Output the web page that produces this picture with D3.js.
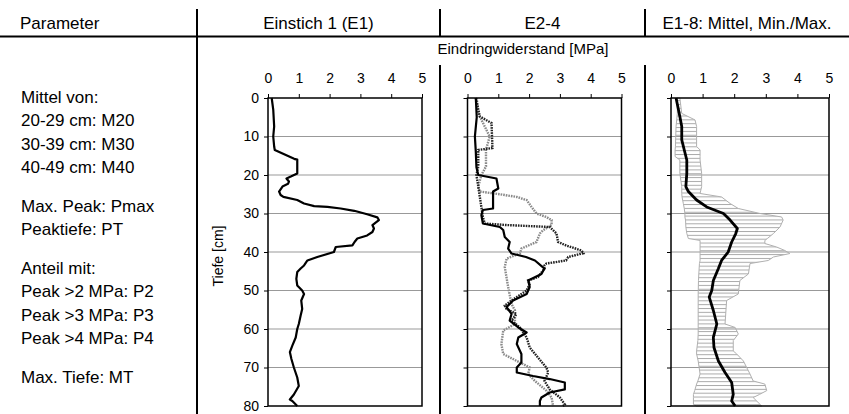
<!DOCTYPE html>
<html>
<head>
<meta charset="utf-8">
<script src="https://cdn.jsdelivr.net/npm/d3@7"></script>
<style>
  body { margin: 0; background: #fff; }
  svg { display: block; font-family: "Liberation Sans", Arial, sans-serif; }
</style>
</head>
<body>
<div id="chart"></div>
<script>
// column headers and parameter list
const headers = ["Parameter", "Einstich 1 (E1)", "E2-4", "E1-8: Mittel, Min./Max."];
const paramLines = [
  ["Mittel von:", "20-29 cm: M20", "30-39 cm: M30", "40-49 cm: M40"],
  ["Max. Peak: Pmax", "Peaktiefe: PT"],
  ["Anteil mit:", "Peak >2 MPa: P2", "Peak >3 MPa: P3", "Peak >4 MPa: P4"],
  ["Max. Tiefe: MT"]
];
const xTicks = [0, 1, 2, 3, 4, 5];
const yTicks = [0, 10, 20, 30, 40, 50, 60, 70, 80];

// Einstich 1 (depth cm, MPa)
const e1Depth = [0, 3, 7.4, 10, 12.6, 13.5, 15.8, 16, 19.6, 20.4, 20.9, 21.7, 22.3, 23, 24.3, 25.2, 25.7, 26.5, 27.4, 28.1, 28.3, 28.7, 29.3, 30.2, 31, 31.7, 33, 33.9, 34.8, 35.7, 36.5, 37.4, 38.3, 38.7, 40, 41.3, 42.2, 43.5, 44.3, 45.2, 47, 48.7, 50, 50.9, 52.6, 54.8, 56.5, 58.7, 60, 62.2, 64.3, 66, 67.8, 70, 72.6, 74.8, 77, 78.3, 78.7, 80];
const e1Value = [0.12, 0.17, 0.2, 0.17, 0.2, 0.22, 0.85, 0.95, 0.95, 0.74, 0.6, 0.68, 0.65, 0.47, 0.36, 0.41, 0.5, 0.95, 1.17, 1.5, 1.93, 2.36, 2.8, 3.22, 3.55, 3.6, 3.39, 3.44, 3.39, 3.22, 2.9, 2.81, 2.74, 2.2, 2.14, 1.6, 1.28, 1.17, 1.06, 0.95, 0.92, 0.95, 1.11, 1.17, 1.08, 1.11, 1.06, 1.0, 0.95, 0.9, 0.79, 0.71, 0.76, 0.84, 0.95, 1.0, 0.84, 0.71, 0.79, 0.95];

// E2-4: solid black
const e2Depth = [0, 5, 10, 14, 18, 20, 20.9, 23.5, 24.3, 28.7, 29.1, 30.4, 32.6, 33.5, 34.3, 36.1, 37.4, 39.1, 40.4, 41.3, 42.2, 44.3, 45.7, 47.4, 49.1, 50.9, 52.6, 54.3, 56.1, 57.8, 59.6, 60.9, 62.2, 63.9, 66.5, 68.7, 70, 71.3, 72.2, 73, 73.9, 75.7, 76.5, 77.8, 78.7, 80];
const e2Value = [0.27, 0.3, 0.24, 0.27, 0.29, 0.35, 0.94, 1.0, 0.83, 0.83, 0.5, 0.45, 0.5, 1.05, 1.16, 1.21, 1.37, 1.32, 1.43, 1.9, 2.19, 2.5, 2.4, 1.97, 2.02, 1.92, 1.48, 1.27, 1.43, 1.37, 1.65, 1.92, 1.65, 1.6, 1.75, 1.75, 1.6, 1.6, 2.13, 2.67, 3.16, 3.16, 2.67, 2.4, 2.35, 2.35];
// E2-4: black dotted
const e3Depth = [0, 4.8, 6.5, 13, 13.5, 17.8, 20, 23, 25.7, 28.3, 30.9, 32.6, 33, 33.5, 35.2, 37.4, 38.3, 39.6, 40.3, 41.3, 42.2, 43, 43.5, 44.3, 46.5, 47.4, 48.3, 50, 52.6, 53.9, 54.8, 56.1, 57.8, 59.6, 62.2, 64.8, 67.4, 70, 71.3, 73.5, 75.7, 77.8, 79.6, 80];
const e3Value = [0.27, 0.4, 0.78, 0.81, 0.35, 0.35, 0.29, 0.35, 0.4, 0.45, 0.5, 0.56, 1.27, 2.67, 2.89, 2.94, 3.2, 3.7, 3.76, 3.27, 3.2, 2.56, 2.5, 2.5, 2.29, 1.97, 2.02, 1.92, 1.43, 1.21, 1.27, 1.59, 1.43, 1.7, 1.92, 2.02, 2.29, 2.56, 2.62, 2.5, 2.67, 3.0, 3.16, 3.1];
// E2-4: grey dotted
const e4Depth = [0, 4, 10, 13.5, 17.8, 20, 23, 24.3, 25, 25.7, 26.5, 28.3, 30, 30.9, 31.7, 33, 34.3, 35.2, 37.4, 39.1, 40.4, 41.7, 43.9, 49.1, 53.5, 55.2, 58.7, 60.4, 63.9, 66.5, 68.3, 70, 71.7, 73.5, 76, 77.8, 80];
const e4Value = [0.3, 0.35, 0.72, 0.6, 0.6, 0.45, 0.35, 0.4, 1.05, 1.6, 1.92, 2.08, 2.24, 2.56, 2.73, 2.73, 2.46, 2.35, 2.24, 1.75, 1.7, 1.27, 1.21, 1.32, 1.43, 1.54, 1.54, 1.16, 1.1, 1.16, 1.6, 2.02, 1.97, 2.19, 2.56, 2.73, 2.78];

// E1-8: mean, min, max
const meanDepth = [0, 4.8, 7.4, 10.9, 13.5, 16.1, 19.6, 23, 24.3, 26.5, 28.3, 30, 31.7, 33.9, 35.2, 37.4, 40, 42.2, 44.3, 47.4, 50, 51.7, 55.2, 58.7, 62.2, 64.8, 68.3, 71.3, 73.9, 77, 78.7, 80];
const meanValue = [0.16, 0.28, 0.34, 0.34, 0.42, 0.5, 0.5, 0.47, 0.55, 0.81, 1.13, 1.66, 1.87, 2.1, 2.05, 1.92, 1.81, 1.6, 1.5, 1.34, 1.29, 1.21, 1.34, 1.45, 1.34, 1.36, 1.5, 1.71, 1.92, 1.97, 1.92, 2.03];
const bandDepth = [0, 4, 5.7, 7.4, 12.6, 13.5, 15.2, 16.1, 19.6, 23, 24.8, 25.7, 27.4, 28.7, 30, 30.9, 31.7, 33.5, 35.2, 36.5, 37, 37.8, 38.7, 39.6, 40.4, 41.3, 42.2, 43, 45.7, 47.4, 50.9, 52.6, 58.7, 59.6, 61.3, 63, 65.7, 66.5, 68.3, 71.7, 73.5, 74.3, 76, 77, 77.8, 79.6, 80];
const minValue = [0.2, 0.2, 0.18, 0.16, 0.14, 0.13, 0.13, 0.28, 0.28, 0.34, 0.34, 0.35, 0.39, 0.42, 0.44, 0.44, 0.46, 0.47, 0.5, 0.55, 0.92, 0.92, 0.92, 0.92, 0.92, 0.92, 0.92, 0.9, 0.88, 0.87, 0.86, 0.86, 0.86, 0.86, 0.86, 0.85, 0.81, 0.81, 0.86, 0.92, 0.85, 0.81, 0.75, 0.71, 0.71, 0.71, 0.8];
const maxValue = [0.28, 0.34, 0.76, 0.81, 0.81, 0.92, 0.92, 0.92, 0.97, 0.97, 0.92, 1.6, 1.87, 2.13, 2.82, 3.5, 3.55, 3.45, 3.24, 3.05, 2.97, 2.97, 3.34, 3.6, 3.76, 3.24, 3.08, 2.5, 2.45, 2.18, 2.13, 1.76, 1.71, 2.03, 2.13, 1.97, 1.97, 2.08, 2.29, 2.5, 2.6, 2.97, 3.03, 2.8, 2.6, 2.82, 2.87];

const W = 849, H = 414;
const svg = d3.select("#chart").append("svg")
  .attr("width", W).attr("height", H);

// hatch pattern for the min/max band
const defs = svg.append("defs");
defs.append("pattern")
  .attr("id", "hatch")
  .attr("patternUnits", "userSpaceOnUse")
  .attr("width", 8).attr("height", 3.85)
  .append("line")
  .attr("x1", 0).attr("x2", 8).attr("y1", 0.5).attr("y2", 0.5)
  .attr("stroke", "#aaa").attr("stroke-width", 1);

// table lines
const rule = (x1, y1, x2, y2) => svg.append("line")
  .attr("x1", x1).attr("y1", y1).attr("x2", x2).attr("y2", y2)
  .attr("stroke", "#000").attr("stroke-width", 2);
rule(0, 36.5, W, 36.5);
rule(197, 9, 197, H);
rule(440, 9, 440, 36.5);
rule(645, 9, 645, 36.5);
rule(440, 65, 440, H);
rule(645, 65, 645, H);

// headers
const headerX = [20, 318.5, 542.5, 747];
svg.selectAll(".hdr").data(headers).enter().append("text")
  .attr("x", (d, i) => headerX[i])
  .attr("y", 29)
  .attr("text-anchor", (d, i) => i === 0 ? "start" : "middle")
  .style("font-size", "17px")
  .text(d => d);

svg.append("text")
  .attr("x", 523).attr("y", 54)
  .attr("text-anchor", "middle")
  .style("font-size", "15px")
  .text("Eindringwiderstand [MPa]");

// parameter list
let py = 103;
paramLines.forEach(function(group) {
  group.forEach(function(t) {
    svg.append("text").attr("x", 21).attr("y", py)
      .style("font-size", "17px").text(t);
    py += 23.3;
  });
  py += 15.6;
});

const y = d3.scaleLinear().domain([0, 80]).range([98, 406]);

const panels = [
  {x0: 268, x1: 422, labels: true},
  {x0: 467.5, x1: 621.5, labels: false},
  {x0: 671, x1: 829, labels: false}
];

panels.forEach(function(p, i) {
  p.x = d3.scaleLinear().domain([0, 5]).range([p.x0, p.x1]);
  const g = svg.append("g");

  // grid lines
  g.selectAll(".grid").data(yTicks.slice(1, -1)).enter().append("line")
    .attr("x1", p.x0).attr("x2", p.x1)
    .attr("y1", d => y(d)).attr("y2", d => y(d))
    .attr("stroke", "#999").attr("stroke-width", 1);

  // top axis
  const top = g.append("g").attr("transform", "translate(0,98)")
    .call(d3.axisTop(p.x).tickValues(xTicks).tickSize(4).tickPadding(11)
      .tickFormat(d3.format("d")));
  top.select(".domain").remove();
  top.selectAll("line").attr("stroke", "#000");
  top.selectAll("text").style("font-size", "14px")
    .style("font-family", "Liberation Sans, Arial, sans-serif");

  // left axis
  const left = g.append("g").attr("transform", "translate(" + p.x0 + ",0)")
    .call(d3.axisLeft(y).tickValues(yTicks).tickSize(4).tickPadding(5)
      .tickFormat(p.labels ? d3.format("d") : ""));
  left.select(".domain").remove();
  left.selectAll("line").attr("stroke", "#000");
  left.selectAll("text").style("font-size", "14px")
    .style("font-family", "Liberation Sans, Arial, sans-serif");
  p.g = g;
});

// y axis title
svg.append("text")
  .attr("transform", "translate(223,256) rotate(-90)")
  .attr("text-anchor", "middle")
  .style("font-size", "14px")
  .text("Tiefe [cm]");

function profile(p) {
  return d3.line().x(d => p.x(d[1])).y(d => y(d[0]));
}
const zip = (a, b) => a.map((d, i) => [d, b[i]]);

// panel 1
panels[0].g.append("path")
  .attr("d", profile(panels[0])(zip(e1Depth, e1Value)))
  .attr("fill", "none").attr("stroke", "#000").attr("stroke-width", 2.2)
  .attr("stroke-linejoin", "round");

// panel 2
panels[1].g.append("path")
  .attr("d", profile(panels[1])(zip(e4Depth, e4Value)))
  .attr("fill", "none").attr("stroke", "#8a8a8a").attr("stroke-width", 2.4)
  .attr("stroke-dasharray", "1.6,1");
panels[1].g.append("path")
  .attr("d", profile(panels[1])(zip(e3Depth, e3Value)))
  .attr("fill", "none").attr("stroke", "#222").attr("stroke-width", 2.4)
  .attr("stroke-dasharray", "1.6,1");
panels[1].g.append("path")
  .attr("d", profile(panels[1])(zip(e2Depth, e2Value)))
  .attr("fill", "none").attr("stroke", "#000").attr("stroke-width", 2.2)
  .attr("stroke-linejoin", "round");

// panel 3
const p3 = panels[2];
const bandData = bandDepth.map((d, i) => ({d: d, lo: minValue[i], hi: maxValue[i]}));
p3.g.append("path")
  .attr("d", d3.area().y(d => y(d.d)).x0(d => p3.x(d.lo)).x1(d => p3.x(d.hi))(bandData))
  .attr("fill", "url(#hatch)").attr("stroke", "#b0b0b0").attr("stroke-width", 1);
p3.g.append("path")
  .attr("d", profile(p3)(zip(meanDepth, meanValue)))
  .attr("fill", "none").attr("stroke", "#000").attr("stroke-width", 2.8)
  .attr("stroke-linejoin", "round");

// plot frames
panels.forEach(function(p) {
  svg.append("rect")
    .attr("x", p.x0).attr("y", 98)
    .attr("width", p.x1 - p.x0).attr("height", 308)
    .attr("fill", "none").attr("stroke", "#000").attr("stroke-width", 1.5);
});
</script>
</body>
</html>
